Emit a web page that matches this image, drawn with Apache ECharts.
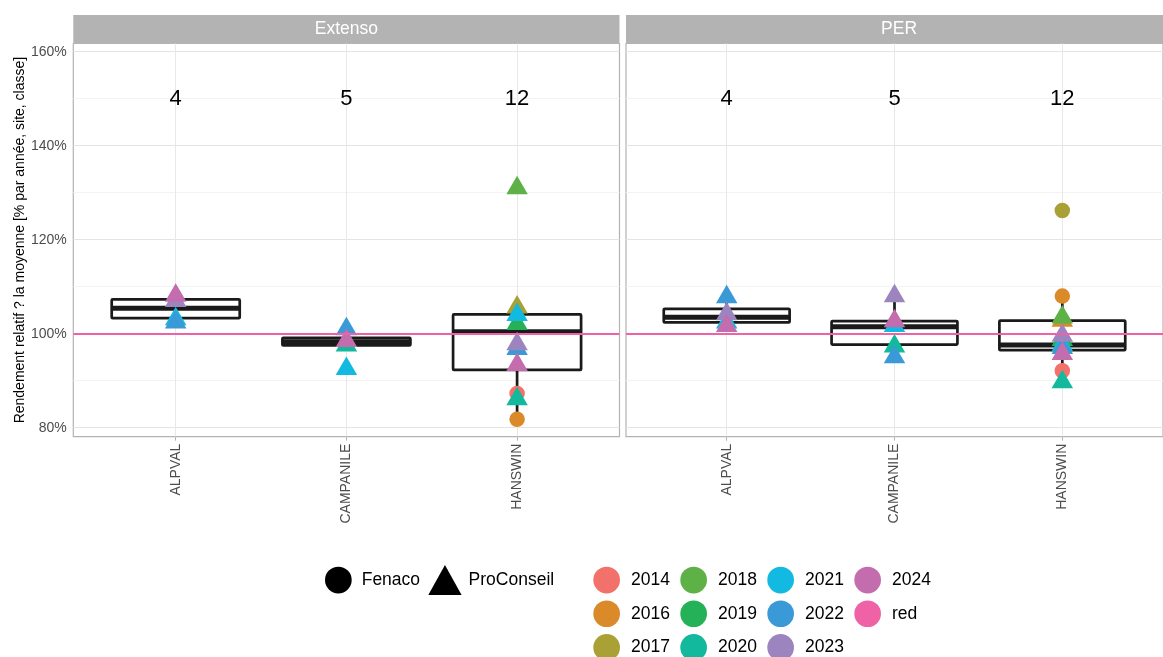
<!DOCTYPE html>
<html>
<head>
<meta charset="utf-8">
<script src="https://cdn.jsdelivr.net/npm/echarts@6/dist/echarts.min.js"></script>
<style>
html,body{margin:0;padding:0;background:#fff;}
#chart{width:1163px;height:657px;}
</style>
</head>
<body>
<div id="chart"></div>
<script>
// ---------- data ----------
const sites = ['ALPVAL', 'CAMPANILE', 'HANSWIN'];
const panels = ['Extenso', 'PER'];
const years = ['2014', '2016', '2017', '2018', '2019', '2020', '2021', '2022', '2023', '2024'];
const nCounts = [4, 5, 12];
const nLabelValue = 150;
const refValue = 100;
const yGridValues = [80, 90, 100, 110, 120, 130, 140, 150, 160];
const yLabelValues = [80, 100, 120, 140, 160];
const yTitle = 'Rendement relatif ? la moyenne [% par année, site, classe]';

// points: [site, year, source, value]
const extensoPoints = [
  ['ALPVAL', '2021', 'ProConseil', 103.1],
  ['ALPVAL', '2022', 'ProConseil', 102.4],
  ['ALPVAL', '2023', 'ProConseil', 107.0],
  ['ALPVAL', '2024', 'ProConseil', 108.1],
  ['CAMPANILE', '2020', 'ProConseil', 97.5],
  ['CAMPANILE', '2021', 'ProConseil', 92.5],
  ['CAMPANILE', '2022', 'ProConseil', 101.0],
  ['CAMPANILE', '2024', 'ProConseil', 98.5],
  ['HANSWIN', '2014', 'Fenaco', 87.3],
  ['HANSWIN', '2016', 'Fenaco', 81.8],
  ['HANSWIN', '2017', 'ProConseil', 105.6],
  ['HANSWIN', '2018', 'ProConseil', 131.0],
  ['HANSWIN', '2019', 'ProConseil', 102.1],
  ['HANSWIN', '2020', 'ProConseil', 86.1],
  ['HANSWIN', '2021', 'ProConseil', 104.0],
  ['HANSWIN', '2022', 'ProConseil', 96.8],
  ['HANSWIN', '2023', 'ProConseil', 97.8],
  ['HANSWIN', '2024', 'ProConseil', 93.4]
];
const perPoints = [
  ['ALPVAL', '2021', 'ProConseil', 102.4],
  ['ALPVAL', '2022', 'ProConseil', 107.8],
  ['ALPVAL', '2023', 'ProConseil', 104.2],
  ['ALPVAL', '2024', 'ProConseil', 101.7],
  ['CAMPANILE', '2020', 'ProConseil', 97.3],
  ['CAMPANILE', '2021', 'ProConseil', 101.7],
  ['CAMPANILE', '2022', 'ProConseil', 95.0],
  ['CAMPANILE', '2023', 'ProConseil', 108.0],
  ['CAMPANILE', '2024', 'ProConseil', 102.7],
  ['HANSWIN', '2014', 'Fenaco', 92.1],
  ['HANSWIN', '2016', 'Fenaco', 108.0],
  ['HANSWIN', '2016', 'ProConseil', 102.8],
  ['HANSWIN', '2017', 'Fenaco', 126.2],
  ['HANSWIN', '2018', 'ProConseil', 103.5],
  ['HANSWIN', '2019', 'ProConseil', 98.7],
  ['HANSWIN', '2020', 'ProConseil', 89.7],
  ['HANSWIN', '2021', 'ProConseil', 97.6],
  ['HANSWIN', '2022', 'ProConseil', 97.0],
  ['HANSWIN', '2023', 'ProConseil', 99.6],
  ['HANSWIN', '2024', 'ProConseil', 95.7]
];
// box statistics per site: [lower whisker, Q1, median, Q3, upper whisker]
const extensoBoxes = [
  [102.4, 103.3, 105.4, 107.3, 108.1],
  [97.5, 97.5, 98.3, 99.1, 99.1],
  [81.8, 92.3, 100.4, 104.1, 105.6]
];
const perBoxes = [
  [101.7, 102.4, 103.5, 105.3, 107.8],
  [95.0, 97.7, 101.5, 102.7, 108.0],
  [89.7, 96.5, 97.6, 102.8, 108.0]
];

// ---------- styles ----------
const yearColors = {
  '2014': '#F2716A', '2016': '#DA8A28', '2017': '#A9A135', '2018': '#5DB147',
  '2019': '#25B157', '2020': '#12B99D', '2021': '#12B9E0', '2022': '#3A9AD7',
  '2023': '#9C84BF', '2024': '#C36DAE'
};
const refColor = '#F062A6';
const FONT = '"Liberation Sans", Arial, sans-serif';
const shapeStyle = {
  Fenaco: { symbol: 'circle', symbolSize: 15.5, symbolOffset: [0, 0] },
  ProConseil: { symbol: 'triangle', symbolSize: [21.5, 18.5], symbolOffset: [0, -3.1] }
};
const PANEL_LEFT = [73.3, 626];
const PANEL_W = 546.2;
const PANEL_TOP = 43.5;
const PANEL_H = 393.2;
const Y_MIN = 78.09, Y_MAX = 161.75;
const X_MIN = -0.6, X_MAX = 2.6;
const BOX_WIDTH = 0.75;
const panelPoints = [extensoPoints, perPoints];
const panelBoxes = [extensoBoxes, perBoxes];

function renderBox(params, api) {
  const x = api.value(0);
  const low = api.coord([x, api.value(1)]);
  const q1 = api.coord([x, api.value(2)]);
  const med = api.coord([x, api.value(3)]);
  const q3 = api.coord([x, api.value(4)]);
  const high = api.coord([x, api.value(5)]);
  const halfW = api.size([BOX_WIDTH, 0])[0] / 2;
  const stroke = '#1A1A1A';
  return {
    type: 'group',
    children: [
      { type: 'line', shape: { x1: low[0], y1: low[1], x2: q1[0], y2: q1[1] }, style: { stroke: stroke, lineWidth: 2.7 } },
      { type: 'line', shape: { x1: q3[0], y1: q3[1], x2: high[0], y2: high[1] }, style: { stroke: stroke, lineWidth: 2.7 } },
      { type: 'rect', shape: { x: q3[0] - halfW, y: q3[1], width: 2 * halfW, height: q1[1] - q3[1], r: 1 },
        style: { fill: '#fff', stroke: stroke, lineWidth: 2.7 } },
      { type: 'line', shape: { x1: med[0] - halfW, y1: med[1], x2: med[0] + halfW, y2: med[1] },
        style: { stroke: stroke, lineWidth: 5 } }
    ]
  };
}

const grid = panels.map((p, i) => ({
  left: PANEL_LEFT[i], top: PANEL_TOP, width: PANEL_W, height: PANEL_H,
  show: true, borderColor: '#B3B3B3', borderWidth: 1.2, backgroundColor: '#fff'
}));

const xAxis = panels.map((p, i) => ({
  type: 'value', gridIndex: i, min: X_MIN, max: X_MAX,
  axisLine: { show: false },
  axisTick: { show: true, customValues: [0, 1, 2], length: 4, lineStyle: { color: '#B3B3B3', width: 1 } },
  axisLabel: {
    customValues: [0, 1, 2], formatter: v => sites[Math.round(v)],
    rotate: 90, margin: 7, fontSize: 14, color: '#4D4D4D', fontFamily: FONT
  },
  splitLine: { show: true, lineStyle: { color: '#E8E8E8', width: 1 } }
}));

const yAxis = panels.map((p, i) => ({
  type: 'value', gridIndex: i, min: Y_MIN, max: Y_MAX,
  axisLine: { show: false },
  axisTick: { show: false, customValues: yGridValues },
  axisLabel: {
    show: i === 0, customValues: yLabelValues, formatter: v => v + '%',
    fontSize: 14, color: '#4D4D4D', fontFamily: FONT, margin: 6.5
  },
  splitLine: { show: true, lineStyle: { color: ['#E4E4E4', '#F3F3F3'], width: 1 } },
  name: i === 0 ? yTitle : '',
  nameLocation: 'middle', nameGap: 45,
  nameTextStyle: { fontSize: 14, color: '#000', fontFamily: FONT }
}));

const series = [];
panels.forEach((p, i) => {
  series.push({
    type: 'custom', name: 'boxplot', xAxisIndex: i, yAxisIndex: i, z: 2,
    renderItem: renderBox,
    encode: { x: 0, y: [1, 2, 3, 4, 5] },
    data: panelBoxes[i].map((b, k) => [k].concat(b)),
    silent: true
  });
  series.push({
    type: 'scatter', name: 'red', xAxisIndex: i, yAxisIndex: i, z: 3,
    itemStyle: { color: refColor, opacity: 1 }, data: [],
    markLine: {
      silent: true, symbol: ['none', 'none'], label: { show: false },
      lineStyle: { color: refColor, width: 2.2, type: 'solid', opacity: 1 },
      emphasis: { disabled: true },
      data: [{ yAxis: refValue }]
    }
  });
  years.forEach(yr => {
    series.push({
      type: 'scatter', name: yr, xAxisIndex: i, yAxisIndex: i, z: 4,
      itemStyle: { color: yearColors[yr], opacity: 1 },
      emphasis: { disabled: true },
      data: panelPoints[i].filter(pt => pt[1] === yr).map(pt => Object.assign({
        value: [sites.indexOf(pt[0]), pt[3]]
      }, shapeStyle[pt[2]]))
    });
  });
  series.push({
    type: 'scatter', name: 'n', xAxisIndex: i, yAxisIndex: i, z: 5,
    symbolSize: 1, itemStyle: { color: 'rgba(0,0,0,0)', opacity: 1 },
    label: {
      show: true, position: 'inside', formatter: prm => String(nCounts[prm.dataIndex]),
      fontSize: 22, color: '#000', opacity: 1, fontFamily: FONT
    },
    data: nCounts.map((n, k) => [k, nLabelValue])
  });
});
series.push({ type: 'scatter', name: 'Fenaco', xAxisIndex: 0, yAxisIndex: 0, itemStyle: { color: '#000', opacity: 1 }, data: [] });
series.push({ type: 'scatter', name: 'ProConseil', xAxisIndex: 0, yAxisIndex: 0, itemStyle: { color: '#000', opacity: 1 }, data: [] });

const legendText = { fontSize: 17.5, color: '#000', fontFamily: FONT };
const colorColumns = [['2014', '2016', '2017'], ['2018', '2019', '2020'], ['2021', '2022', '2023'], ['2024', 'red']];
const legend = [
  { data: [{ name: 'Fenaco', icon: 'circle' }], left: 325, top: 566.7, padding: 0,
    itemWidth: 26.7, itemHeight: 26.7, selectedMode: false,
    textStyle: Object.assign({ padding: [0, 0, 0, 5] }, legendText) },
  { data: [{ name: 'ProConseil', icon: 'triangle' }], left: 428.3, top: 565, padding: 0,
    itemWidth: 33.3, itemHeight: 30, symbolKeepAspect: false, selectedMode: false,
    textStyle: Object.assign({ padding: [0, 0, 0, 2] }, legendText) }
].concat(colorColumns.map((col, k) => ({
  data: col.map(n => ({ name: n, icon: 'circle' })), orient: 'vertical',
  left: 593.3 + k * 87, top: 566.7, height: 120, padding: 0, itemGap: 7,
  itemWidth: 26.7, itemHeight: 26.7, selectedMode: false,
  textStyle: Object.assign({ padding: [0, 0, 0, 6] }, legendText)
})));

const graphic = [];
panels.forEach((p, i) => {
  graphic.push({ type: 'rect', shape: { x: PANEL_LEFT[i], y: 15, width: PANEL_W, height: 28.5 },
    style: { fill: '#B3B3B3' }, silent: true });
  graphic.push({ type: 'text', x: PANEL_LEFT[i] + PANEL_W / 2, y: 29.5,
    style: { text: p, fill: '#fff', fontSize: 17.5, fontFamily: FONT, align: 'center', verticalAlign: 'middle' },
    silent: true });
});

const chart = echarts.init(document.getElementById('chart'), null, { renderer: 'canvas' });
chart.setOption({
  animation: false,
  backgroundColor: '#fff',
  textStyle: { fontFamily: FONT },
  grid: grid, xAxis: xAxis, yAxis: yAxis,
  legend: legend, graphic: graphic, series: series
});
</script>
</body>
</html>
